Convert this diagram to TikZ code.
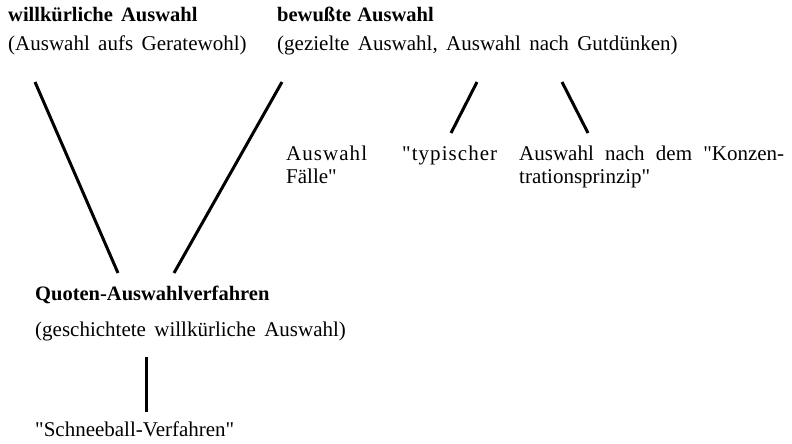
\documentclass[tikz,border=0pt]{standalone}
\usepackage{fontspec}
\setmainfont{Liberation Serif}[Ligatures=TeXOff,WordSpace=1.6]
\begin{document}
\begin{tikzpicture}[x=1pt,y=-1pt,
  txt/.style={anchor=base west,inner sep=0pt,font=\fontsize{21}{24}\selectfont},
  btxt/.style={anchor=base west,inner sep=0pt,font=\fontsize{20.5}{24}\selectfont\bfseries},
  conn/.style={line width=3pt}]
\useasboundingbox (0,0) rectangle (792,444);
\node[btxt] (w1) at (8,22) {willkürliche Auswahl};
\node[txt] (w2) at (8,51) {(Auswahl aufs Geratewohl)};
\node[btxt] (b1) at (277,22) {bewußte\hspace{-2pt} Auswahl};
\node[txt] (b2) at (277,51) {(gezielte Auswahl, Auswahl nach Gutdünken)};
\node[txt] (t1) at (286,160) {\addfontfeatures{LetterSpace=5}Auswahl};
\node[txt] (t1b) at (286,183) {Fälle"};
\node[txt] (t2) at (402,160) {\addfontfeatures{LetterSpace=5}"typischer};
\node[txt] (k1) at (519,160) {\makebox[265pt][s]{Auswahl nach dem "Konzen-}};
\node[txt] (k2) at (519,183) {trationsprinzip"};
\node[btxt] (q1) at (35,300) {Quoten-Auswahlverfahren};
\node[txt] (q2) at (35,336) {(geschichtete willkürliche Auswahl)};
\node[txt] (s) at (35,436) {"Schneeball-Verfahren"};
\coordinate (la) at (35,82);
\coordinate (lb) at (118,273);
\coordinate (ra) at (282,82);
\coordinate (rb) at (174,273);
\coordinate (ma) at (477,82);
\coordinate (mb) at (451,133);
\coordinate (na) at (562,82);
\coordinate (nb) at (588,133);
\coordinate (va) at (146,357);
\coordinate (vb) at (146,412);
\draw[conn] (la) -- (lb);
\draw[conn] (ra) -- (rb);
\draw[conn] (ma) -- (mb);
\draw[conn] (na) -- (nb);
\draw[conn] (va) -- (vb);
\end{tikzpicture}
\end{document}
